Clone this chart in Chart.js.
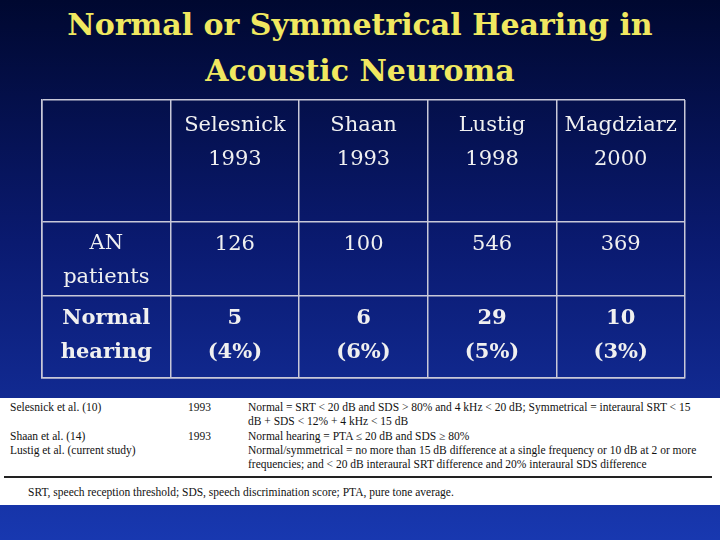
<!DOCTYPE html>
<html><head><meta charset="utf-8">
<script src="https://cdn.jsdelivr.net/npm/chart.js@4"></script>
<style>
html,body{margin:0;padding:0;width:720px;height:540px;overflow:hidden;}
body{background:linear-gradient(180deg,#000830 0%,#0a1a70 45%,#1838b0 100%);position:relative;font-family:serif;}
#title{position:absolute;left:0;top:2px;width:720px;text-align:center;color:#f0e860;font-family:"DejaVu Serif",serif;font-weight:bold;font-size:30px;line-height:46px;}
#c{position:absolute;left:0;top:0;}
.cell{position:absolute;color:#f0f0f0;text-align:center;font-family:"DejaVu Serif",serif;font-size:21px;line-height:34px;transform:translate(-50%,-50%);white-space:nowrap;}
.b{font-weight:bold;}
#note{position:absolute;left:0;top:398px;width:720px;height:107px;background:#fff;font-size:11.5px;color:#111;font-family:serif;}
#note div{position:absolute;white-space:nowrap;}
</style></head><body>
<div id="title">Normal or Symmetrical Hearing in<br>Acoustic Neuroma</div>
<canvas id="c" width="720" height="540"></canvas>
<div id="note">
<div style="left:10px;top:3px">Selesnick et al. (10)</div>
<div style="left:188px;top:3px">1993</div>
<div style="left:248px;top:3px">Normal = SRT &lt; 20 dB and SDS &gt; 80% and 4 kHz &lt; 20 dB; Symmetrical = interaural SRT &lt; 15</div>
<div style="left:248px;top:17px">dB + SDS &lt; 12% + 4 kHz &lt; 15 dB</div>
<div style="left:10px;top:32px">Shaan et al. (14)</div>
<div style="left:188px;top:32px">1993</div>
<div style="left:248px;top:32px">Normal hearing = PTA ≤ 20 dB and SDS ≥ 80%</div>
<div style="left:10px;top:46px">Lustig et al. (current study)</div>
<div style="left:248px;top:46px">Normal/symmetrical = no more than 15 dB difference at a single frequency or 10 dB at 2 or more</div>
<div style="left:248px;top:60px">frequencies; and &lt; 20 dB interaural SRT difference and 20% interaural SDS difference</div>
<div style="left:4px;top:78px;width:708px;height:2px;background:#222"></div>
<div style="left:28px;top:88px">SRT, speech reception threshold; SDS, speech discrimination score; PTA, pure tone average.</div>
</div>
<script>
const columns = ["", "Selesnick\n1993", "Shaan\n1993", "Lustig\n1998", "Magdziarz\n2000"];
const rowLabels = ["AN\npatients", "Normal\nhearing"];
const patients = ["126", "100", "546", "369"];
const normalHearing = ["5\n(4%)", "6\n(6%)", "29\n(5%)", "10\n(3%)"];
const rowBounds = [0, 122, 196, 278];
const colBounds = [0, 1, 2, 3, 4, 5];
const rows = [columns, [rowLabels[0], ...patients], [rowLabels[1], ...normalHearing]];

const gridStyle = {color:'#c8c8d8', lineWidth:1.5, drawTicks:false};
const cellPlugin = {
  id:'cells',
  afterRender(chart){
    if (chart._cellsDone) return; chart._cellsDone = true;
    const xs = chart.scales.x, ys = chart.scales.y;
    rows.forEach((r, ri) => {
      r.forEach((txt, ci) => {
        if (!txt) return;
        const d = document.createElement('div');
        d.className = 'cell' + (ri === 2 ? ' b' : '');
        d.innerHTML = txt.replace('\n','<br>');
        const cx = xs.getPixelForValue(ci + 0.5);
        let cy = ys.getPixelForValue((rowBounds[ri] + rowBounds[ri+1]) / 2);
        if (ri === 0) cy -= 20;
        if (ri === 1 && ci > 0) cy -= 16;
        if (ri === 2) cy -= 3;
        d.style.left = cx + 'px'; d.style.top = cy + 'px';
        document.body.appendChild(d);
      });
    });
  }
};
new Chart(document.getElementById('c'), {
  type:'scatter',
  data:{datasets:[{data:[], pointRadius:0}]},
  options:{
    responsive:false, animation:false,
    layout:{padding:{left:42, right:35, top:100, bottom:162}},
    plugins:{legend:{display:false}, tooltip:{enabled:false}},
    scales:{
      x:{type:'linear', min:0, max:5, grid:gridStyle, border:{color:'#c8c8d8', width:1.5},
         ticks:{display:false, stepSize:1},
         afterBuildTicks(s){ s.ticks = colBounds.map(v=>({value:v})); }},
      y:{type:'linear', min:0, max:278, reverse:true, grid:gridStyle, border:{color:'#c8c8d8', width:1.5},
         ticks:{display:false},
         afterBuildTicks(s){ s.ticks = rowBounds.map(v=>({value:v})); }}
    }
  },
  plugins:[cellPlugin]
});
</script>
</body></html>
